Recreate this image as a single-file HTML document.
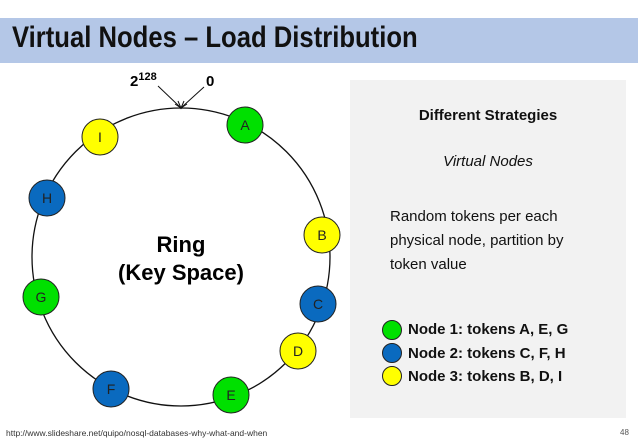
<!DOCTYPE html>
<html><head><meta charset="utf-8"><style>
body{margin:0;width:638px;height:442px;background:#fff;overflow:hidden;position:relative;font-family:"Liberation Sans",sans-serif}
.bar{position:absolute;left:0;top:18px;width:638px;height:45px;background:#b4c7e7}
.title{position:absolute;left:12px;top:21px;font-size:30px;font-weight:bold;color:#111;font-family:"Liberation Sans Narrow","Liberation Sans",sans-serif;white-space:nowrap;transform:scaleX(0.855);transform-origin:left}
.panel{position:absolute;left:350px;top:80px;width:276px;height:338px;background:#f2f2f2}
.t{position:absolute;color:#111}
</style></head><body>
<div class="bar"></div>
<div class="title">Virtual Nodes – Load Distribution</div>
<div class="panel"></div>
<div class="t" style="left:350px;width:276px;text-align:center;top:107px;font-size:15px;font-weight:bold">Different Strategies</div>
<div class="t" style="left:350px;width:276px;text-align:center;top:153px;font-size:15px;font-style:italic">Virtual Nodes</div>
<div class="t" style="left:390px;top:205px;font-size:15px;line-height:24px">Random tokens per each<br>physical node, partition by<br>token value</div>
<div class="t" style="left:408px;top:318px;font-size:15px;font-weight:bold;line-height:23.5px">Node 1: tokens A, E, G<br>Node 2: tokens C, F, H<br>Node 3: tokens B, D, I</div>
<svg width="638" height="442" style="position:absolute;left:0;top:0" font-family="Liberation Sans,sans-serif">
<circle cx="392" cy="330" r="9.5" fill="#00e000" stroke="#222"/>
<circle cx="392" cy="353" r="9.5" fill="#0a6abf" stroke="#222"/>
<circle cx="392" cy="376" r="9.5" fill="#ffff00" stroke="#222"/>
<circle cx="181" cy="257" r="149" fill="none" stroke="#111" stroke-width="1.3"/>
<line x1="158" y1="86" x2="180" y2="107" stroke="#111"/>
<line x1="204" y1="87" x2="182" y2="107" stroke="#111"/>
<path d="M175 104 L181 108 L178 101 M187 104 L181 108 L184 101" fill="none" stroke="#111"/>
<text x="130" y="86" font-size="15" font-weight="bold">2<tspan dy="-6" font-size="11">128</tspan></text>
<text x="206" y="86" font-size="15" font-weight="bold">0</text>
<text x="181" y="252" font-size="22" font-weight="bold" text-anchor="middle">Ring</text>
<text x="181" y="280" font-size="22" font-weight="bold" text-anchor="middle">(Key Space)</text>
<g stroke="#222" stroke-width="1" font-size="14" text-anchor="middle">
<circle cx="245" cy="125" r="18" fill="#00e000"/><circle cx="100" cy="137" r="18" fill="#ffff00"/>
<circle cx="47" cy="198" r="18" fill="#0a6abf"/><circle cx="322" cy="235" r="18" fill="#ffff00"/>
<circle cx="41" cy="297" r="18" fill="#00e000"/><circle cx="318" cy="304" r="18" fill="#0a6abf"/>
<circle cx="298" cy="351" r="18" fill="#ffff00"/><circle cx="111" cy="389" r="18" fill="#0a6abf"/>
<circle cx="231" cy="395" r="18" fill="#00e000"/>
</g>
<g font-size="14" text-anchor="middle" fill="#222">
<text x="245" y="130">A</text><text x="100" y="142">I</text><text x="47" y="203">H</text>
<text x="322" y="240">B</text><text x="41" y="302">G</text><text x="318" y="309">C</text>
<text x="298" y="356">D</text><text x="111" y="394">F</text><text x="231" y="400">E</text>
</g>
<text x="6" y="436" font-size="8.5" fill="#333">http://www.slideshare.net/quipo/nosql-databases-why-what-and-when</text>
<text x="620" y="435" font-size="8" fill="#555">48</text>
</svg>
</body></html>
